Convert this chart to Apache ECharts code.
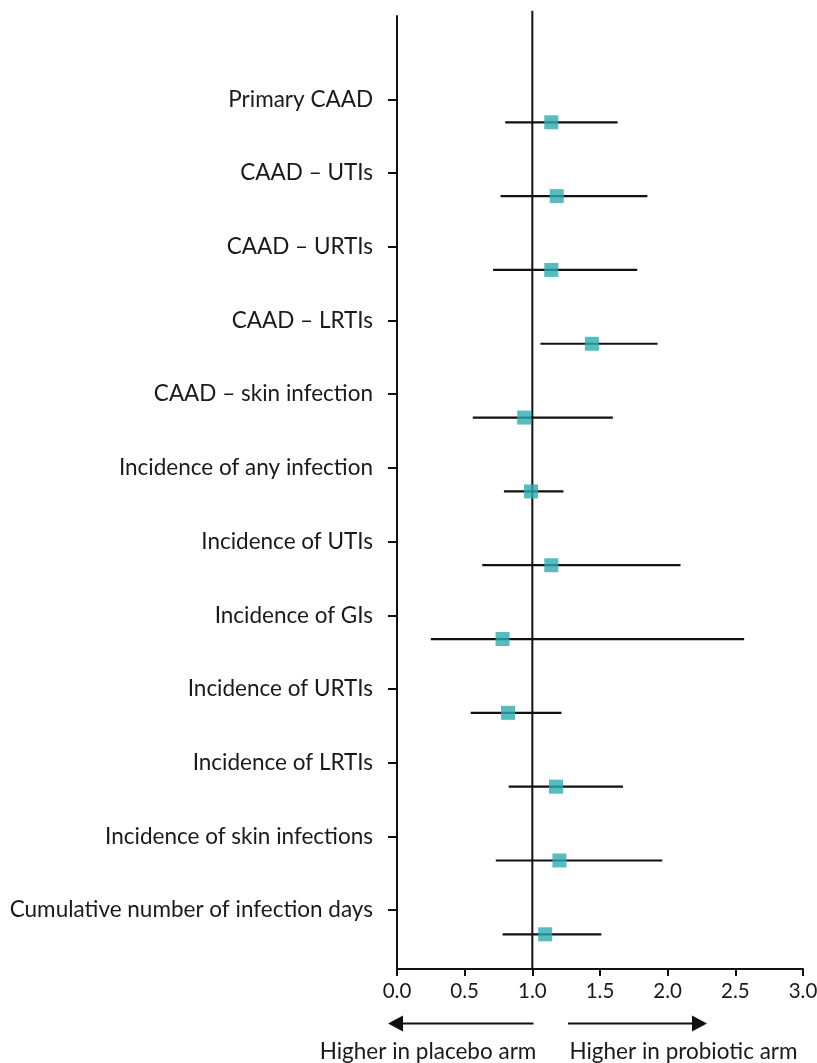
<!DOCTYPE html>
<html>
<head>
<meta charset="utf-8">
<script src="https://cdn.jsdelivr.net/npm/echarts@6/dist/echarts.min.js"></script>
<style>
html,body{margin:0;padding:0;background:#fff;}
#chart{width:817px;height:1063px;}
</style>
</head>
<body>
<div id="chart"></div>
<script>
// ---- data ----
const categories = [
  'Primary CAAD',
  'CAAD \u2013 UTIs',
  'CAAD \u2013 URTIs',
  'CAAD \u2013 LRTIs',
  'CAAD \u2013 skin infection',
  'Incidence of any infection',
  'Incidence of UTIs',
  'Incidence of GIs',
  'Incidence of URTIs',
  'Incidence of LRTIs',
  'Incidence of skin infections',
  'Cumulative number of infection days'
];
const estimate = [1.14, 1.18, 1.14, 1.44, 0.94, 0.99, 1.14, 0.78, 0.82, 1.175, 1.20, 1.095];
const lower    = [0.80, 0.765, 0.71, 1.06, 0.56, 0.79, 0.63, 0.25, 0.545, 0.825, 0.73, 0.78];
const upper    = [1.63, 1.85, 1.775, 1.925, 1.595, 1.23, 2.095, 2.565, 1.215, 1.67, 1.96, 1.51];
const xTicks = { min: 0, max: 3, interval: 0.5 };
const refValue = 1;

// ---- build ----
const rowIdx = categories.map((c, i) => i);
const ciData = rowIdx.map(i => [lower[i], upper[i], i]);
const estData = rowIdx.map(i => [estimate[i], i]);
const FONT = 'Lato, "Noto Sans", sans-serif';
const FS = 22.5;
const TXT = '#1a1a1a';

const chart = echarts.init(document.getElementById('chart'), null, {renderer: 'canvas'});
chart.setOption({
  animation: false,
  backgroundColor: '#fff',
  grid: [
    {left: 397, right: 14, top: 16, bottom: 94, containLabel: false, outerBoundsMode: 'none'},
    {left: 397, right: 14, top: 99.5, bottom: 153, containLabel: false, outerBoundsMode: 'none'}
  ],
  xAxis: [
    {
      type: 'value', gridIndex: 0, min: xTicks.min, max: xTicks.max, interval: xTicks.interval,
      axisLine: {show: true, onZero: false, lineStyle: {color: '#111', width: 2}},
      axisTick: {show: true, length: 7, lineStyle: {color: '#111', width: 2}},
      axisLabel: {fontFamily: FONT, fontSize: 20.5, color: TXT, margin: 12,
        formatter: v => v.toFixed(1)},
      splitLine: {show: false}
    },
    {type: 'value', gridIndex: 1, min: 0, max: 3, show: false}
  ],
  yAxis: [
    {
      type: 'value', gridIndex: 0, inverse: true, min: -1.44, max: 11.47,
      axisLine: {show: true, onZero: false, lineStyle: {color: '#111', width: 2}},
      axisTick: {show: false}, axisLabel: {show: false}, splitLine: {show: false}
    },
    {
      type: 'category', gridIndex: 1, inverse: true, boundaryGap: false,
      data: categories,
      axisLine: {show: false},
      axisTick: {show: true, length: 9, lineStyle: {color: '#111', width: 2}},
      axisLabel: {fontFamily: FONT, fontSize: FS, color: TXT, margin: 24},
      splitLine: {show: false}
    }
  ],
  series: [
    {
      type: 'line', xAxisIndex: 0, yAxisIndex: 0, clip: false, symbol: 'none',
      data: [[refValue, -1.51], [refValue, 11.47]],
      lineStyle: {color: '#111', width: 2}, z: 1, silent: true
    },
    {
      type: 'custom', xAxisIndex: 0, yAxisIndex: 0, z: 2,
      data: ciData,
      renderItem: function (params, api) {
        const p1 = api.coord([api.value(0), api.value(2)]);
        const p2 = api.coord([api.value(1), api.value(2)]);
        return {type: 'line', shape: {x1: p1[0], y1: p1[1], x2: p2[0], y2: p2[1]},
          style: {stroke: '#111', lineWidth: 2.2}};
      }
    },
    {
      type: 'scatter', xAxisIndex: 0, yAxisIndex: 0, z: 3,
      symbol: 'rect', symbolSize: 14,
      itemStyle: {color: '#2aabb0'},
      data: estData
    }
  ],
  graphic: [
    {type: 'line', shape: {x1: 400, y1: 1023.5, x2: 533.5, y2: 1023.5}, style: {stroke: '#111', lineWidth: 2}},
    {type: 'polygon', shape: {points: [[388, 1023.5], [403, 1015.5], [403, 1031.5]]}, style: {fill: '#111'}},
    {type: 'line', shape: {x1: 568, y1: 1023.5, x2: 695, y2: 1023.5}, style: {stroke: '#111', lineWidth: 2}},
    {type: 'polygon', shape: {points: [[707, 1023.5], [692, 1015.5], [692, 1031.5]]}, style: {fill: '#111'}},
    {type: 'text', style: {text: 'Higher in placebo arm', x: 428, y: 1052, align: 'center', verticalAlign: 'middle',
      font: FS + 'px ' + FONT, fill: TXT}},
    {type: 'text', style: {text: 'Higher in probiotic arm', x: 683.5, y: 1052, align: 'center', verticalAlign: 'middle',
      font: FS + 'px ' + FONT, fill: TXT}}
  ]
});
</script>
</body>
</html>
